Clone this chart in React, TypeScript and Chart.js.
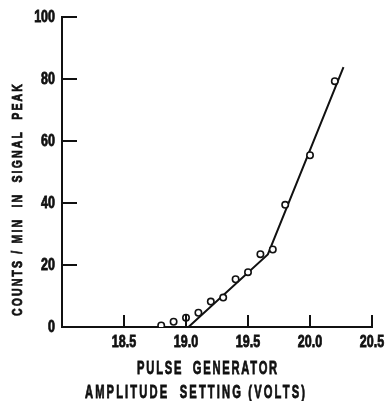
import { useEffect, useRef } from 'react';
import { Chart, registerables } from 'chart.js';

Chart.register(...registerables);

// Measured counting rate versus pulse generator amplitude
const voltage = [18.8, 18.9, 19.0, 19.1, 19.2, 19.3, 19.4, 19.5, 19.6, 19.7, 19.8, 20.0, 20.2];
const counts = [0.5, 1.7, 3.0, 4.6, 8.2, 9.5, 15.4, 17.7, 23.5, 25.0, 39.4, 55.4, 79.3];

// Hand-drawn two-segment fit through the points
const fitVoltage = [19.02, 19.66, 20.27];
const fitCounts = [0, 23.4, 83.8];

const xTicks = [18.0, 18.5, 19.0, 19.5, 20.0, 20.5];
const xTickLabels = ['', '18.5', '19.0', '19.5', '20.0', '20.5'];
const yTicks = [0, 20, 40, 60, 80, 100];
const yTickLabels = ['0', '20', '40', '60', '80', '100'];

const yTitle = 'COUNTS / MIN  IN  SIGNAL  PEAK';
const xTitleLines = ['PULSE  GENERATOR', 'AMPLITUDE  SETTING (VOLTS)'];

const INK = '#111111';
const FONT = "'Liberation Sans', Arial, sans-serif";

// Draws horizontally condensed, heavy lettering, optionally spread to a given width
function drawCondensed(
  ctx: CanvasRenderingContext2D,
  text: string,
  x: number,
  y: number,
  align: CanvasTextAlign,
  sx: number,
  width?: number,
) {
  ctx.save();
  (ctx as any).letterSpacing = '0px';
  if (width) {
    const w0 = ctx.measureText(text).width;
    const n = Math.max(text.length - 1, 1);
    const ls = Math.max((width / sx - w0) / n, 0);
    (ctx as any).letterSpacing = `${ls}px`;
  }
  ctx.translate(x, y);
  ctx.scale(sx, 1);
  ctx.textAlign = align;
  ctx.lineWidth = 0.8;
  ctx.strokeStyle = INK;
  ctx.fillText(text, 0, 0);
  ctx.strokeText(text, 0, 0);
  ctx.restore();
}

const decor = {
  id: 'decor',
  afterDraw(chart: any) {
    const { ctx, chartArea, scales } = chart;
    const xs = scales.x;
    const ys = scales.y;
    ctx.save();
    ctx.strokeStyle = INK;
    ctx.lineWidth = 2;
    // inward tick marks
    for (const v of yTicks) {
      if (v === 0) continue;
      const py = Math.round(ys.getPixelForValue(v));
      ctx.beginPath();
      ctx.moveTo(chartArea.left, py);
      ctx.lineTo(chartArea.left + 15, py);
      ctx.stroke();
    }
    for (const v of xTicks) {
      if (v === 18.0) continue;
      const px = Math.round(xs.getPixelForValue(v));
      ctx.beginPath();
      ctx.moveTo(px, chartArea.bottom);
      ctx.lineTo(px, chartArea.bottom - 12);
      ctx.stroke();
    }

    ctx.fillStyle = INK;
    ctx.textBaseline = 'middle';

    // tick labels
    ctx.font = `bold 16px ${FONT}`;
    yTicks.forEach((v, i) => {
      drawCondensed(ctx, yTickLabels[i], chartArea.left - 7, ys.getPixelForValue(v) + 1, 'right', 0.78);
    });
    xTicks.forEach((v, i) => {
      if (!xTickLabels[i]) return;
      drawCondensed(ctx, xTickLabels[i], xs.getPixelForValue(v), chartArea.bottom + 16, 'center', 0.78);
    });

    // axis titles
    ctx.font = `bold 15px ${FONT}`;
    ctx.save();
    ctx.translate(chartArea.left - 44, chartArea.top + 182);
    ctx.rotate(-Math.PI / 2);
    drawCondensed(ctx, yTitle, 0, 0, 'center', 0.7, 232);
    ctx.restore();

    ctx.font = `bold 18px ${FONT}`;
    drawCondensed(ctx, xTitleLines[0], chartArea.left + 146, chartArea.bottom + 42, 'center', 0.62, 140);
    drawCondensed(ctx, xTitleLines[1], chartArea.left + 134, chartArea.bottom + 66, 'center', 0.62, 220);
    ctx.restore();
  },
};

export default function App() {
  const canvasRef = useRef<HTMLCanvasElement>(null);

  useEffect(() => {
    const canvas = canvasRef.current;
    if (!canvas) return;
    const chart = new Chart(canvas, {
      type: 'scatter',
      data: {
        datasets: [
          {
            type: 'line',
            data: fitVoltage.map((x, i) => ({ x, y: fitCounts[i] })),
            borderColor: INK,
            borderWidth: 2,
            pointRadius: 0,
            tension: 0,
            fill: false,
            order: 2,
          },
          {
            type: 'scatter',
            data: voltage.map((x, i) => ({ x, y: counts[i] })),
            pointStyle: 'circle',
            pointRadius: 3.2,
            pointBorderWidth: 1.6,
            pointBorderColor: INK,
            pointBackgroundColor: '#ffffff',
            order: 1,
          },
        ],
      },
      options: {
        responsive: false,
        animation: false,
        layout: { padding: { left: 0, top: 17, right: 14, bottom: 0 } },
        plugins: {
          legend: { display: false },
          tooltip: { enabled: false },
        },
        scales: {
          x: {
            type: 'linear',
            min: 18.0,
            max: 20.5,
            afterBuildTicks: (s: any) => {
              s.ticks = xTicks.map((value) => ({ value }));
            },
            afterFit: (s: any) => {
              s.height = 74;
            },
            grid: { display: false, drawTicks: false },
            border: { display: true, color: INK, width: 2 },
            ticks: { display: false },
          },
          y: {
            type: 'linear',
            min: 0,
            max: 100,
            afterBuildTicks: (s: any) => {
              s.ticks = yTicks.map((value) => ({ value }));
            },
            afterFit: (s: any) => {
              s.width = 62;
            },
            grid: { display: false, drawTicks: false },
            border: { display: true, color: INK, width: 2 },
            ticks: { display: false },
          },
        },
      },
      plugins: [decor],
    });
    return () => chart.destroy();
  }, []);

  return (
    <div style={{ position: 'fixed', left: 0, top: 0, width: 386, height: 401, background: '#ffffff' }}>
      <canvas ref={canvasRef} width={386} height={401} style={{ display: 'block' }} />
    </div>
  );
}
